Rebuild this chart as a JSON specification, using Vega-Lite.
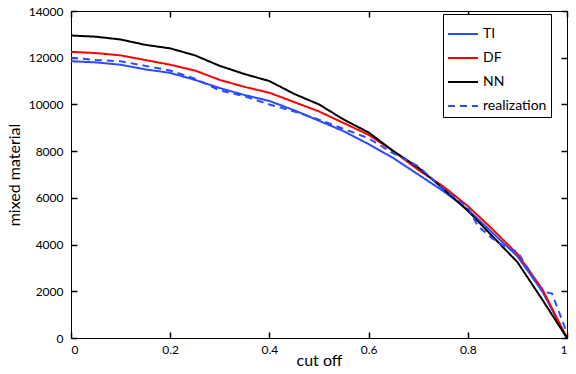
{
  "$schema": "https://vega.github.io/schema/vega-lite/v6.json",
  "width": 496,
  "height": 327,
  "autosize": {"type": "none"},
  "padding": {"left": 71, "top": 11, "right": 9, "bottom": 36},
  "background": "white",
  "config": {
    "font": "Lato",
    "view": {"stroke": "black", "strokeWidth": 1},
    "axis": {
      "domainColor": "black",
      "tickColor": "black",
      "labelColor": "black",
      "titleColor": "black",
      "grid": false,
      "labelFontSize": 12,
      "titleFontSize": 16,
      "titleFontWeight": "normal",
      "tickSize": 6,
      "tickWidth": 1.5,
      "zindex": 1
    }
  },
  "datasets": {
    "curves": [
      {"series": "TI", "cutoff": 0, "value": 11850},
      {"series": "TI", "cutoff": 0.05, "value": 11800},
      {"series": "TI", "cutoff": 0.1, "value": 11700},
      {"series": "TI", "cutoff": 0.15, "value": 11500},
      {"series": "TI", "cutoff": 0.2, "value": 11350},
      {"series": "TI", "cutoff": 0.25, "value": 11050},
      {"series": "TI", "cutoff": 0.3, "value": 10700},
      {"series": "TI", "cutoff": 0.35, "value": 10400},
      {"series": "TI", "cutoff": 0.4, "value": 10150},
      {"series": "TI", "cutoff": 0.45, "value": 9750},
      {"series": "TI", "cutoff": 0.5, "value": 9300},
      {"series": "TI", "cutoff": 0.55, "value": 8850},
      {"series": "TI", "cutoff": 0.6, "value": 8300},
      {"series": "TI", "cutoff": 0.65, "value": 7700},
      {"series": "TI", "cutoff": 0.7, "value": 7000},
      {"series": "TI", "cutoff": 0.75, "value": 6300},
      {"series": "TI", "cutoff": 0.8, "value": 5500},
      {"series": "TI", "cutoff": 0.85, "value": 4500},
      {"series": "TI", "cutoff": 0.9, "value": 3500},
      {"series": "TI", "cutoff": 0.95, "value": 2000},
      {"series": "TI", "cutoff": 1, "value": 0},
      {"series": "DF", "cutoff": 0, "value": 12250},
      {"series": "DF", "cutoff": 0.05, "value": 12200},
      {"series": "DF", "cutoff": 0.1, "value": 12100},
      {"series": "DF", "cutoff": 0.15, "value": 11900},
      {"series": "DF", "cutoff": 0.2, "value": 11700},
      {"series": "DF", "cutoff": 0.25, "value": 11450},
      {"series": "DF", "cutoff": 0.3, "value": 11050},
      {"series": "DF", "cutoff": 0.35, "value": 10750},
      {"series": "DF", "cutoff": 0.4, "value": 10500},
      {"series": "DF", "cutoff": 0.45, "value": 10100},
      {"series": "DF", "cutoff": 0.5, "value": 9700},
      {"series": "DF", "cutoff": 0.55, "value": 9200},
      {"series": "DF", "cutoff": 0.6, "value": 8700},
      {"series": "DF", "cutoff": 0.65, "value": 8000},
      {"series": "DF", "cutoff": 0.7, "value": 7200},
      {"series": "DF", "cutoff": 0.75, "value": 6500},
      {"series": "DF", "cutoff": 0.8, "value": 5650},
      {"series": "DF", "cutoff": 0.85, "value": 4650},
      {"series": "DF", "cutoff": 0.9, "value": 3600},
      {"series": "DF", "cutoff": 0.95, "value": 2100},
      {"series": "DF", "cutoff": 1, "value": 0},
      {"series": "NN", "cutoff": 0, "value": 12950},
      {"series": "NN", "cutoff": 0.05, "value": 12900},
      {"series": "NN", "cutoff": 0.1, "value": 12780},
      {"series": "NN", "cutoff": 0.15, "value": 12550},
      {"series": "NN", "cutoff": 0.2, "value": 12400},
      {"series": "NN", "cutoff": 0.25, "value": 12100},
      {"series": "NN", "cutoff": 0.3, "value": 11650},
      {"series": "NN", "cutoff": 0.35, "value": 11300},
      {"series": "NN", "cutoff": 0.4, "value": 11000},
      {"series": "NN", "cutoff": 0.45, "value": 10450},
      {"series": "NN", "cutoff": 0.5, "value": 10000},
      {"series": "NN", "cutoff": 0.55, "value": 9350},
      {"series": "NN", "cutoff": 0.6, "value": 8800},
      {"series": "NN", "cutoff": 0.65, "value": 8000},
      {"series": "NN", "cutoff": 0.7, "value": 7300},
      {"series": "NN", "cutoff": 0.75, "value": 6400},
      {"series": "NN", "cutoff": 0.8, "value": 5450},
      {"series": "NN", "cutoff": 0.85, "value": 4350},
      {"series": "NN", "cutoff": 0.9, "value": 3250},
      {"series": "NN", "cutoff": 0.95, "value": 1650},
      {"series": "NN", "cutoff": 1, "value": 0},
      {"series": "realization", "cutoff": 0, "value": 12000},
      {"series": "realization", "cutoff": 0.05, "value": 11900},
      {"series": "realization", "cutoff": 0.1, "value": 11850},
      {"series": "realization", "cutoff": 0.15, "value": 11650},
      {"series": "realization", "cutoff": 0.2, "value": 11450},
      {"series": "realization", "cutoff": 0.25, "value": 11100},
      {"series": "realization", "cutoff": 0.3, "value": 10600},
      {"series": "realization", "cutoff": 0.35, "value": 10350},
      {"series": "realization", "cutoff": 0.4, "value": 10000},
      {"series": "realization", "cutoff": 0.45, "value": 9700},
      {"series": "realization", "cutoff": 0.5, "value": 9350},
      {"series": "realization", "cutoff": 0.55, "value": 8950},
      {"series": "realization", "cutoff": 0.6, "value": 8550},
      {"series": "realization", "cutoff": 0.65, "value": 7900},
      {"series": "realization", "cutoff": 0.7, "value": 7350},
      {"series": "realization", "cutoff": 0.75, "value": 6400},
      {"series": "realization", "cutoff": 0.8, "value": 5600},
      {"series": "realization", "cutoff": 0.82, "value": 4800},
      {"series": "realization", "cutoff": 0.85, "value": 4250},
      {"series": "realization", "cutoff": 0.88, "value": 3850},
      {"series": "realization", "cutoff": 0.9, "value": 3700},
      {"series": "realization", "cutoff": 0.95, "value": 2000},
      {"series": "realization", "cutoff": 0.97, "value": 1900},
      {"series": "realization", "cutoff": 1, "value": 200}
    ]
  },
  "data": {"name": "curves"},
  "resolve": {"axis": {"x": "independent", "y": "independent"}},
  "layer": [
    {
      "mark": {"type": "point", "opacity": 0},
      "encoding": {
        "x": {
          "field": "cutoff",
          "type": "quantitative",
          "scale": {"domain": [0, 1], "nice": false},
          "axis": {"orient": "top", "offset": -6, "values": [0, 0.2, 0.4, 0.6, 0.8, 1], "labels": false, "title": null, "domain": false}
        },
        "y": {
          "field": "value",
          "type": "quantitative",
          "scale": {"domain": [0, 14000], "nice": false},
          "axis": {"orient": "right", "offset": -6, "values": [0, 2000, 4000, 6000, 8000, 10000, 12000, 14000], "labels": false, "title": null, "domain": false}
        }
      }
    },
    {
      "mark": {"type": "point", "opacity": 0},
      "encoding": {
        "x": {
          "field": "cutoff",
          "type": "quantitative",
          "scale": {"domain": [0, 1], "nice": false},
          "axis": {"orient": "bottom", "offset": -6, "values": [0, 0.2, 0.4, 0.6, 0.8, 1], "labels": false, "title": null, "domain": false}
        },
        "y": {
          "field": "value",
          "type": "quantitative",
          "scale": {"domain": [0, 14000], "nice": false},
          "axis": {"orient": "left", "offset": -6, "values": [0, 2000, 4000, 6000, 8000, 10000, 12000, 14000], "labels": false, "title": null, "domain": false}
        }
      }
    },
    {
      "mark": {"type": "line", "strokeWidth": 2, "clip": true},
      "encoding": {
        "x": {
          "field": "cutoff",
          "type": "quantitative",
          "scale": {"domain": [0, 1], "nice": false},
          "axis": {"orient": "bottom", "values": [0, 0.2, 0.4, 0.6, 0.8, 1], "format": "~g", "title": "cut off", "titlePadding": -3, "labelPadding": 6, "ticks": false}
        },
        "y": {
          "field": "value",
          "type": "quantitative",
          "scale": {"domain": [0, 14000], "nice": false},
          "axis": {"orient": "left", "values": [0, 2000, 4000, 6000, 8000, 10000, 12000, 14000], "format": "d", "title": "mixed material", "titlePadding": 6, "labelPadding": 8, "ticks": false}
        },
        "color": {
          "field": "series",
          "type": "nominal",
          "scale": {"domain": ["TI", "DF", "NN", "realization"], "range": ["#2a4bff", "#ff0000", "#000000", "#2a4bff"]},
          "legend": {
            "title": null,
            "orient": "none",
            "legendX": 372,
            "legendY": 3,
            "symbolType": "stroke",
            "symbolSize": 900,
            "symbolStrokeWidth": 2,
            "labelFontSize": 14,
            "labelColor": "black",
            "strokeColor": "black",
            "fillColor": "white",
            "padding": 4,
            "rowPadding": 1
          }
        },
        "strokeDash": {
          "field": "series",
          "type": "nominal",
          "scale": {"domain": ["TI", "DF", "NN", "realization"], "range": [[1, 0], [1, 0], [1, 0], [7, 5]]},
          "legend": {
            "title": null,
            "orient": "none",
            "legendX": 372,
            "legendY": 3,
            "symbolType": "stroke",
            "symbolSize": 900,
            "symbolStrokeWidth": 2,
            "labelFontSize": 14,
            "labelColor": "black",
            "strokeColor": "black",
            "fillColor": "white",
            "padding": 4,
            "rowPadding": 1
          }
        }
      }
    }
  ]
}
